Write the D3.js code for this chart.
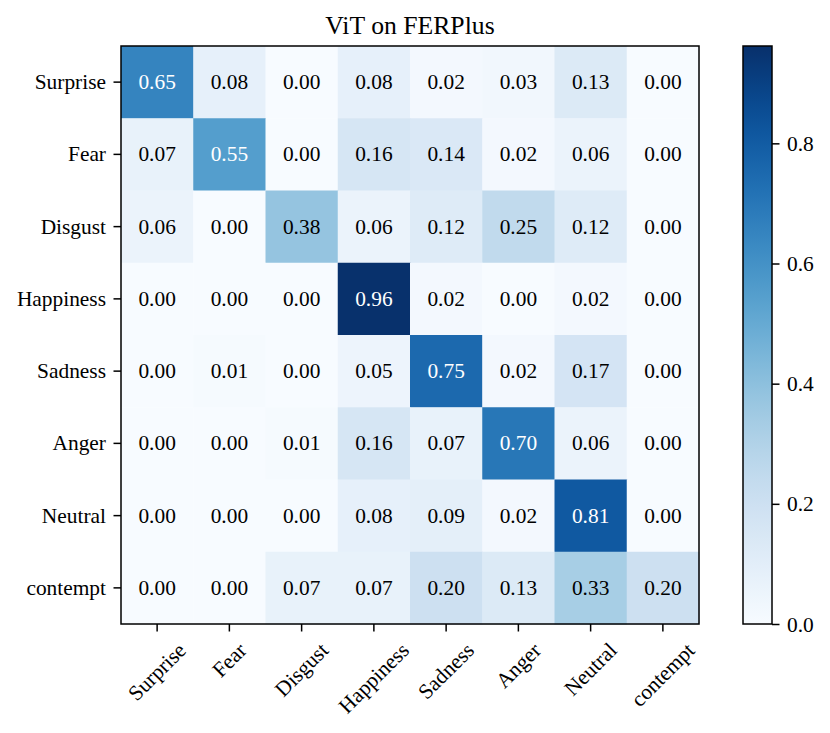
<!DOCTYPE html>
<html><head><meta charset="utf-8">
<script src="https://cdn.jsdelivr.net/npm/d3@7"></script>
<style>body{margin:0;background:#fff;} text{font-family:"Liberation Serif","Times New Roman",serif;}</style>
</head><body><svg id="c" width="830" height="733"></svg>
<script>
const title = "ViT on FERPlus";
const rowLabels = ["Surprise","Fear","Disgust","Happiness","Sadness","Anger","Neutral","contempt"];
const colLabels = ["Surprise","Fear","Disgust","Happiness","Sadness","Anger","Neutral","contempt"];
const matrix = [
  [0.65,0.08,0.00,0.08,0.02,0.03,0.13,0.00],
  [0.07,0.55,0.00,0.16,0.14,0.02,0.06,0.00],
  [0.06,0.00,0.38,0.06,0.12,0.25,0.12,0.00],
  [0.00,0.00,0.00,0.96,0.02,0.00,0.02,0.00],
  [0.00,0.01,0.00,0.05,0.75,0.02,0.17,0.00],
  [0.00,0.00,0.01,0.16,0.07,0.70,0.06,0.00],
  [0.00,0.00,0.00,0.08,0.09,0.02,0.81,0.00],
  [0.00,0.00,0.07,0.07,0.20,0.13,0.33,0.20]
];
const cbTicks = [0.0,0.2,0.4,0.6,0.8];
const vmax = 0.962;

const FS = 21.4;
const svg = d3.select("#c");
const L=121, T=46, R=699, B=624;
const x = d3.scaleBand().domain(colLabels.map((d,i)=>i)).range([L,R]).padding(0);
const y = d3.scaleBand().domain(rowLabels.map((d,i)=>i)).range([T,B]).padding(0);
const color = d3.scaleSequential(d3.interpolateBlues).domain([0,vmax]);

const cells=[];
matrix.forEach((row,i)=>row.forEach((v,j)=>cells.push({i,j,v})));
svg.append("g").selectAll("rect").data(cells).join("rect")
  .attr("x",d=>x(d.j)).attr("y",d=>y(d.i))
  .attr("width",x.bandwidth()+0.5).attr("height",y.bandwidth()+0.5)
  .attr("fill",d=>color(d.v));
svg.append("g").selectAll("text").data(cells).join("text")
  .attr("x",d=>x(d.j)+x.bandwidth()/2).attr("y",d=>y(d.i)+y.bandwidth()/2)
  .attr("text-anchor","middle").attr("dominant-baseline","central")
  .attr("font-size",FS+"px")
  .attr("fill",d=>d.v>vmax/2?"#fff":"#000")
  .text(d=>d.v.toFixed(2));

svg.append("rect").attr("x",L).attr("y",T).attr("width",R-L).attr("height",B-T)
  .attr("fill","none").attr("stroke","#000").attr("stroke-width",1.5);

// axes
const xAxis = d3.axisBottom(x).tickSize(7.5).tickFormat(i=>colLabels[i]);
const gx = svg.append("g").attr("transform",`translate(0,${B})`).call(xAxis);
gx.select(".domain").remove();
gx.selectAll("line").attr("stroke","#000").attr("stroke-width",1.5);
gx.selectAll("text").attr("font-size",FS+"px").attr("fill","#000")
  .attr("text-anchor","middle").attr("dominant-baseline","central")
  .attr("dy",null).attr("y",0)
  .each(function(){
    const w = this.getComputedTextLength();
    const cyv = 16 + (w + 19) * 0.3536;
    d3.select(this).attr("transform",`translate(0,${cyv}) rotate(-45)`);
  });

const yAxis = d3.axisLeft(y).tickSize(7.5).tickFormat(i=>rowLabels[i]);
const gy = svg.append("g").attr("transform",`translate(${L},0)`).call(yAxis);
gy.select(".domain").remove();
gy.selectAll("line").attr("stroke","#000").attr("stroke-width",1.5);
gy.selectAll("text").attr("font-size",FS+"px").attr("fill","#000").attr("x",-15)
  .attr("dy",null).attr("dominant-baseline","central");

svg.append("text").attr("x",(L+R)/2).attr("y",34).attr("text-anchor","middle")
  .attr("font-size","25.7px").attr("fill","#000").text(title);

// colorbar
const cL=743, cR=772;
const cy = d3.scaleLinear().domain([0,vmax]).range([B,T]);
const defs = svg.append("defs");
const grad = defs.append("linearGradient").attr("id","cbg").attr("x1",0).attr("y1",1).attr("x2",0).attr("y2",0);
d3.range(0,1.0001,0.05).forEach(t=>grad.append("stop").attr("offset",t).attr("stop-color",d3.interpolateBlues(t)));
svg.append("rect").attr("x",cL).attr("y",T).attr("width",cR-cL).attr("height",B-T)
  .attr("fill","url(#cbg)").attr("stroke","#000").attr("stroke-width",1.5);
const cAxis = d3.axisRight(cy).tickValues(cbTicks).tickSize(7.5).tickFormat(d3.format(".1f"));
const gc = svg.append("g").attr("transform",`translate(${cR},0)`).call(cAxis);
gc.select(".domain").remove();
gc.selectAll("line").attr("stroke","#000").attr("stroke-width",1.5);
gc.selectAll("text").attr("font-size",FS+"px").attr("fill","#000").attr("x",15)
  .attr("dy",null).attr("dominant-baseline","central");
</script></body></html>
